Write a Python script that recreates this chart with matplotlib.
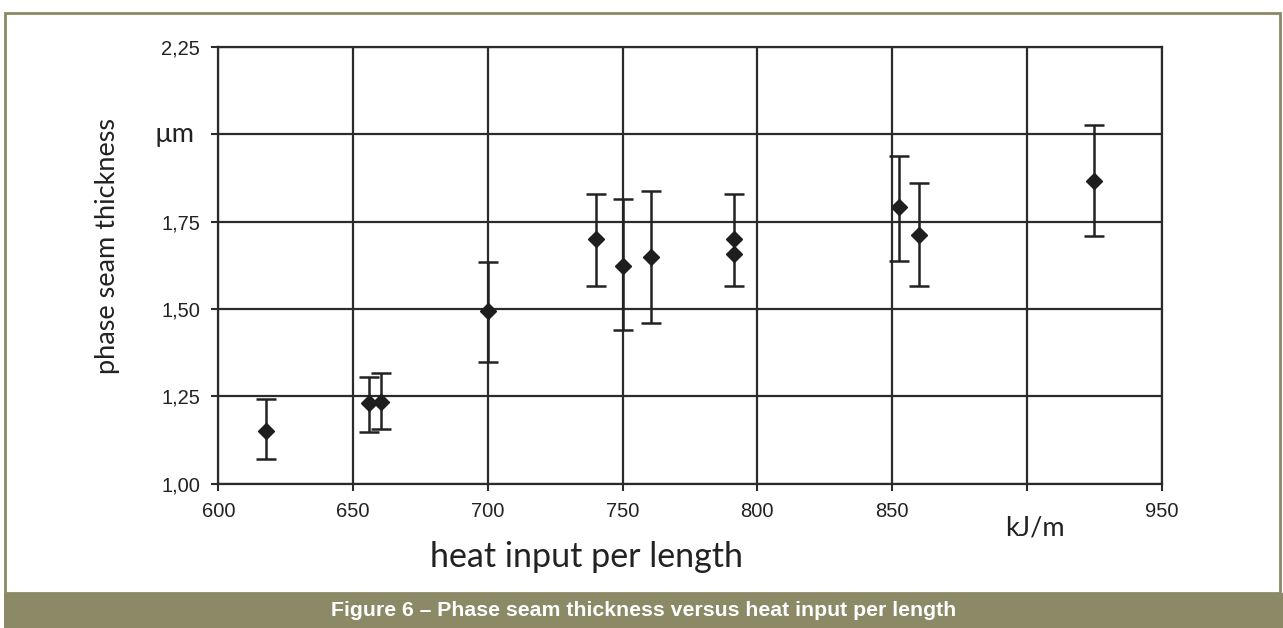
import matplotlib
matplotlib.use("Agg")
import matplotlib.pyplot as plt
from matplotlib.patches import Rectangle

# ---- data ----
heat_input = [617.7, 656.0, 660.4, 700.0, 740.0, 750.0, 760.5, 791.5, 791.5, 852.7, 860.0, 925.0]
thickness = [1.151, 1.230, 1.234, 1.495, 1.700, 1.624, 1.650, 1.700, 1.656, 1.791, 1.712, 1.867]
err_low = [1.069, 1.147, 1.156, 1.349, 1.566, 1.439, 1.459, 1.566, None, 1.637, 1.566, 1.710]
err_high = [1.241, 1.306, 1.316, 1.635, 1.828, 1.815, 1.838, 1.828, None, 1.938, 1.860, 2.027]

x_ticks = [600, 650, 700, 750, 800, 850, 900, 950]
x_tick_labels = ["600", "650", "700", "750", "800", "850", "", "950"]
y_ticks = [1.00, 1.25, 1.50, 1.75, 2.00, 2.25]
y_tick_labels = ["1,00", "1,25", "1,50", "1,75", "", "2,25"]
x_unit = "kJ/m"
y_unit = "\u00b5m"
x_label = "heat input per length"
y_label = "phase seam thickness"
caption = "Figure 6 \u2013 Phase seam thickness versus heat input per length"

W, H = 1283, 628
olive = "#8c8967"
dark = "#2b2b2b"

fig = plt.figure(figsize=(W / 100, H / 100), dpi=100)
fig.patch.set_facecolor("white")

# frame and caption bar
fig.add_artist(Rectangle((5 / W, 1 - 593 / H), (1280 - 5) / W, (593 - 13) / H,
                         transform=fig.transFigure, fill=False,
                         edgecolor=olive, linewidth=2.0))
fig.add_artist(Rectangle((4 / W, 0), (W - 4) / W, (628 - 593) / H,
                         transform=fig.transFigure, facecolor=olive,
                         edgecolor="none"))
fig.text(644 / W, 1 - 611 / H, caption, color="white", fontsize=15.3,
         fontweight="bold", family="Liberation Sans",
         ha="center", va="center")

left, right = 218.3 / W, 1161.5 / W
bottom, top = 1 - 483.5 / H, 1 - 47 / H
ax = fig.add_axes([left, bottom, right - left, top - bottom])

ax.set_xlim(x_ticks[0], x_ticks[-1])
ax.set_ylim(y_ticks[0], y_ticks[-1])
ax.set_xticks(x_ticks)
ax.set_xticklabels(x_tick_labels)
ax.set_yticks(y_ticks)
ax.set_yticklabels(y_tick_labels)

for lab in ax.get_xticklabels() + ax.get_yticklabels():
    lab.set_family("Liberation Sans")
    lab.set_fontsize(14.5)
    lab.set_color("#222222")

ax.tick_params(axis="x", direction="out", length=5, width=1.5, color=dark, pad=8)
ax.tick_params(axis="y", direction="out", length=5, width=1.5, color=dark, pad=8)
ax.grid(True, color=dark, linewidth=1.6)
ax.set_axisbelow(True)
for s in ax.spines.values():
    s.set_color(dark)
    s.set_linewidth(1.6)

# error bars
idx = [i for i in range(len(heat_input)) if err_low[i] is not None]
ex = [heat_input[i] for i in idx]
ey = [thickness[i] for i in idx]
elo = [thickness[i] - err_low[i] for i in idx]
ehi = [err_high[i] - thickness[i] for i in idx]
ax.errorbar(ex, ey, yerr=[elo, ehi], fmt="none", ecolor="#222222",
            elinewidth=1.8, capsize=7, capthick=1.8, zorder=3)
ax.plot(heat_input, thickness, linestyle="none", marker="D", markersize=8.5,
        color="#1e1e1e", zorder=4)

# unit labels in place of the 2,00 and 900 tick labels
ax.annotate(y_unit, xy=(0, 2.00), xycoords=ax.get_yaxis_transform(),
            xytext=(-17, 0), textcoords="offset points", ha="right", va="center",
            fontsize=19.5, family="Lato", color="#222222")
ax.annotate(x_unit, xy=(900, 0), xycoords=ax.get_xaxis_transform(),
            xytext=(6, -23), textcoords="offset points", ha="center", va="top",
            fontsize=19.5, family="Lato", color="#222222")

fig.text(586 / W, 1 - 557 / H, x_label, ha="center", va="center",
         fontsize=24.5, family="Lato", color="#222222")
fig.text(108 / W, 1 - 246 / H, y_label, ha="center", va="center", rotation=90,
         fontsize=19.5, family="Lato", color="#222222")

fig.savefig("out.png", dpi=100)
